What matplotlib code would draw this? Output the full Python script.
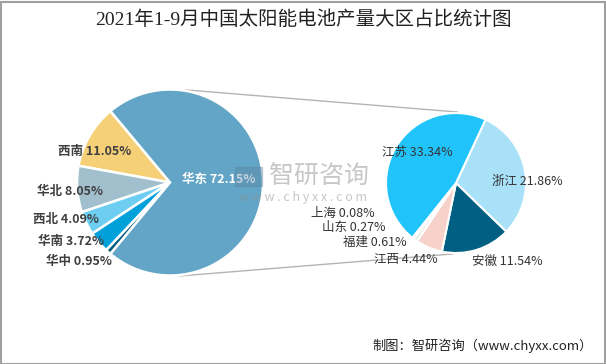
import numpy as np
import matplotlib
matplotlib.use("Agg")
import matplotlib.pyplot as plt
from matplotlib.patches import Rectangle

plt.rcParams['font.family'] = ['Noto Sans CJK SC', 'DejaVu Sans']

# data
left_labels = ['西南', '华北', '西北', '华南', '华中', '华东']
left_values = [11.05, 8.05, 4.09, 3.72, 0.95, 72.15]
left_colors = ['#f6d077', '#a2bfcd', '#6dcef2', '#00a1db', '#005a7e', '#62a5c6']

right_labels = ['浙江', '安徽', '江西', '福建', '山东', '上海', '江苏']
right_values = [21.86, 11.54, 4.44, 0.61, 0.27, 0.08, 33.34]
right_colors = ['#a9e1f8', '#005f82', '#f7d2cb', '#d9ead3', '#2e8b8b', '#0f6b6b', '#20c4fb']

W, H = 606, 364

def Y(y):
    return H - y

# label positions in pixels (layout only)
left_pos = {'西南': (95, 151), '华北': (70, 192), '西北': (66, 220),
            '华南': (71, 242), '华中': (79, 261), '华东': (219, 179)}
right_pos = {'江苏': (417, 152), '浙江': (527, 181), '安徽': (507, 261),
             '江西': (406, 259), '福建': (375, 242), '山东': (354, 227),
             '上海': (343, 213)}

fig = plt.figure(figsize=(W / 100, H / 100), dpi=100)
ax = fig.add_axes([0, 0, 1, 1])
ax.set_xlim(0, W)
ax.set_ylim(0, H)
ax.set_aspect('equal')
ax.axis('off')

# left pie, big slice centred on the right
lc, lr = (170, Y(182.5)), 93
other = sum(left_values[:-1]) / sum(left_values) * 360
ax.pie(left_values, colors=left_colors, startangle=180 - other / 2,
       counterclock=True, center=lc, radius=lr, frame=True,
       wedgeprops=dict(edgecolor='white', linewidth=1.8))

# right pie (breakdown of 华东)
rc, rr = (456, Y(183)), 70
ax.pie(right_values, colors=right_colors, startangle=65,
       counterclock=False, center=rc, radius=rr, frame=True,
       wedgeprops=dict(edgecolor='white', linewidth=1.5))
ax.set_xlim(0, W)
ax.set_ylim(0, H)
ax.axis('off')

# connector lines
def on_circle(c, r, deg):
    a = np.deg2rad(deg)
    return c[0] + r * np.cos(a), c[1] + r * np.sin(a)

for la, ra in [(80, 89), (-84, -92.5)]:
    p1 = on_circle(lc, lr + 1, la)
    p2 = on_circle(rc, rr + 1, ra)
    ax.plot([p1[0], p2[0]], [p1[1], p2[1]], color='#b4b4b4', lw=1, zorder=0)

# labels
for name, v in zip(left_labels, left_values):
    x, y = left_pos[name]
    col = 'white' if name == '华东' else '#404040'
    ax.text(x, Y(y), f'{name} {v:.2f}%', ha='center', va='center',
            fontsize=9, fontweight='semibold', color=col, zorder=5)

for name, v in zip(right_labels, right_values):
    x, y = right_pos[name]
    ax.text(x, Y(y), f'{name} {v:.2f}%', ha='center', va='center',
            fontsize=9, color='#333333', zorder=5)

# watermark
ax.add_patch(Rectangle((235, Y(186)), 27, 19, color='#5b7f9a', alpha=0.35, zorder=6))
ax.text(319, Y(176), '智研咨询', ha='center', va='center', fontsize=18,
        color='#909090', alpha=0.5, zorder=6)
ax.text(303, Y(197), 'w w w . c h y x x . c o m', ha='center', va='center',
        fontsize=9, color='#909090', alpha=0.5, zorder=6)

# title and footer
ax.text(303, Y(20), '2021年1-9月中国太阳能电池产量大区占比统计图', ha='center',
        va='center', fontsize=14, color='#222222',
        family=['Liberation Serif', 'Noto Sans CJK SC'])
ax.text(593, Y(346), '制图：智研咨询（www.chyxx.com）', ha='right', va='center',
        fontsize=9.5, color='#222222')

# frame border
fig.add_artist(Rectangle((0.5 / W, 0.5 / H), 1 - 2 / W, 1 - 2 / H,
                         transform=fig.transFigure, fill=False,
                         edgecolor='#a0a0a0', linewidth=1.5))

fig.savefig('out.png', dpi=100)
